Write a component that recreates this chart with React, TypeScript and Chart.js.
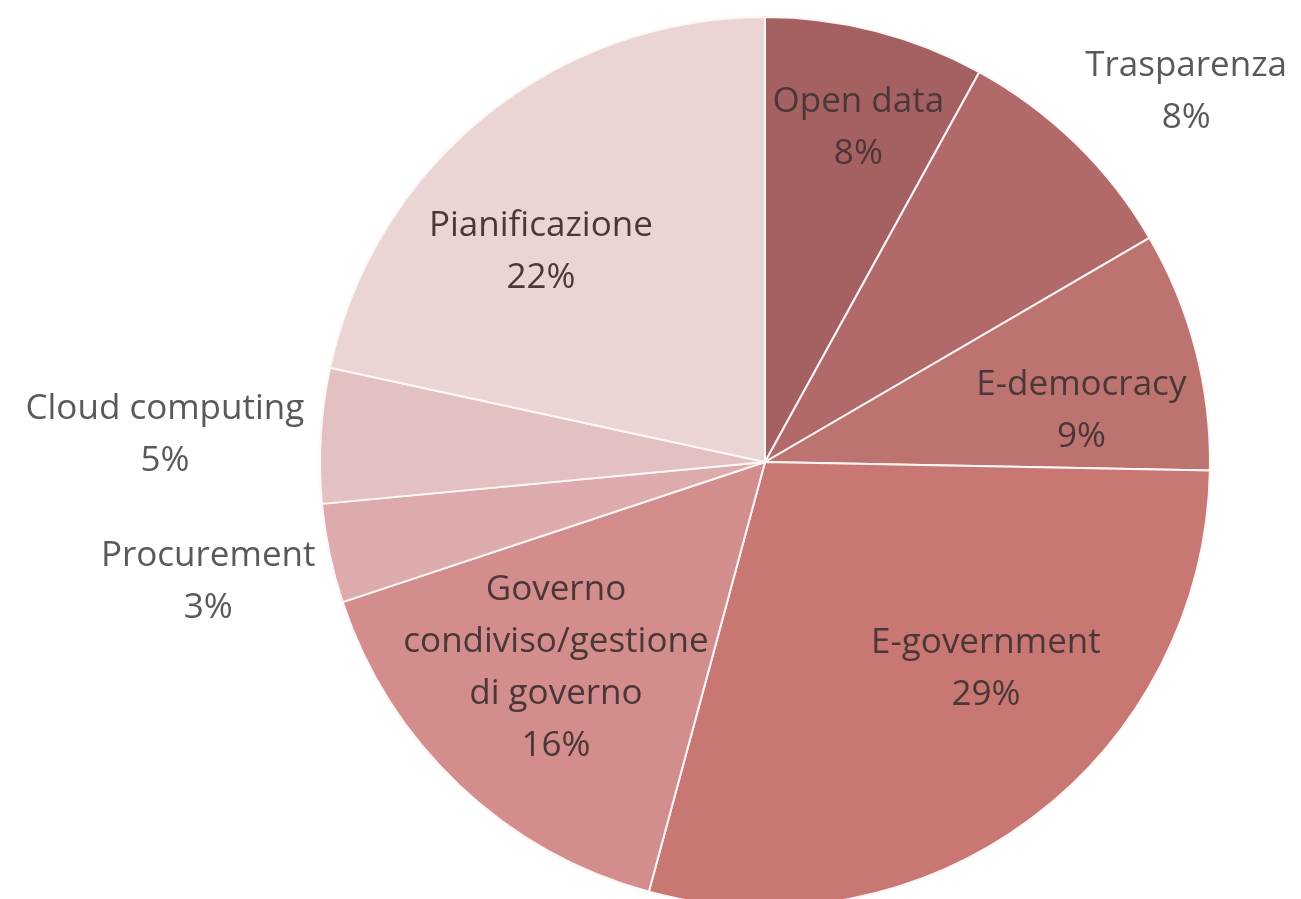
import React, { useEffect, useRef } from "react";
import { Chart, registerables } from "chart.js";

Chart.register(...registerables);

const categories = [
  "Open data",
  "Trasparenza",
  "E-democracy",
  "E-government",
  "Governo condiviso/gestione di governo",
  "Procurement",
  "Cloud computing",
  "Pianificazione",
];
const values = [8.0, 8.6, 8.7, 28.9, 15.7, 3.6, 4.9, 21.6];
const percentLabels = ["8%", "8%", "9%", "29%", "16%", "3%", "5%", "22%"];

const sliceColors = [
  "#a56061",
  "#b2696a",
  "#bd7471",
  "#c97773",
  "#d38d8d",
  "#ddabab",
  "#e4c1c1",
  "#ebd4d4",
];

// label placement: radius factor (relative to outer radius), angle offset (deg), inside?
const labelPlacement = [
  { r: 0.78, da: 1.2, inside: true },
  { r: 1.26, da: 4.4, inside: false },
  { r: 0.72, da: 5.5, inside: true },
  { r: 0.68, da: -10, inside: true },
  { r: 0.66, da: 2, inside: true },
  { r: 1.28, da: -0.3, inside: false },
  { r: 1.35, da: -0.8, inside: false },
  { r: 0.69, da: -8, inside: true },
];

const FONT = "35px 'Open Sans'";
const LINE_H = 52;
const MAX_W = 330;

function wrap(ctx: CanvasRenderingContext2D, text: string, maxW: number): string[] {
  const words = text.split(" ");
  const lines: string[] = [];
  let cur = "";
  for (const w of words) {
    const test = cur ? cur + " " + w : w;
    if (cur && ctx.measureText(test).width > maxW) {
      lines.push(cur);
      cur = w;
    } else cur = test;
  }
  if (cur) lines.push(cur);
  return lines;
}

const labelPlugin = {
  id: "sliceLabels",
  afterDatasetsDraw(chart: any) {
    const ctx: CanvasRenderingContext2D = chart.ctx;
    const meta = chart.getDatasetMeta(0);
    ctx.save();
    ctx.font = FONT;
    ctx.textAlign = "center";
    ctx.textBaseline = "middle";
    meta.data.forEach((arc: any, i: number) => {
      const p = arc.getProps(["x", "y", "startAngle", "endAngle", "outerRadius"], true);
      const pl = labelPlacement[i];
      const mid = (p.startAngle + p.endAngle) / 2 + (pl.da * Math.PI) / 180;
      const cx = p.x + Math.cos(mid) * p.outerRadius * pl.r;
      const cy = p.y + Math.sin(mid) * p.outerRadius * pl.r;
      const lines = [...wrap(ctx, categories[i], MAX_W), percentLabels[i]];
      ctx.fillStyle = pl.inside ? "#4b3738" : "#595959";
      const y0 = cy - ((lines.length - 1) * LINE_H) / 2;
      lines.forEach((ln, k) => ctx.fillText(ln, cx, y0 + k * LINE_H));
    });
    ctx.restore();
  },
};

export default function App() {
  const ref = useRef<HTMLCanvasElement | null>(null);
  useEffect(() => {
    if (!ref.current) return;
    const chart = new Chart(ref.current, {
      type: "pie",
      data: {
        labels: categories,
        datasets: [
          {
            data: values,
            backgroundColor: sliceColors,
            borderColor: "#fff6f6",
            borderWidth: 2,
          },
        ],
      },
      options: {
        responsive: false,
        animation: false,
        layout: { padding: { top: 16, bottom: 16, left: 229, right: 0 } },
        plugins: {
          legend: { display: false },
          tooltip: { enabled: false },
        },
      },
      plugins: [labelPlugin],
    });
    return () => chart.destroy();
  }, []);
  return (
    <div
      style={{
        position: "fixed",
        left: 0,
        top: 0,
        width: 1301,
        height: 899,
        overflow: "hidden",
        background: "#ffffff",
      }}
    >
      <canvas ref={ref} width={1301} height={924} style={{ width: 1301, height: 924, display: "block" }} />
    </div>
  );
}
